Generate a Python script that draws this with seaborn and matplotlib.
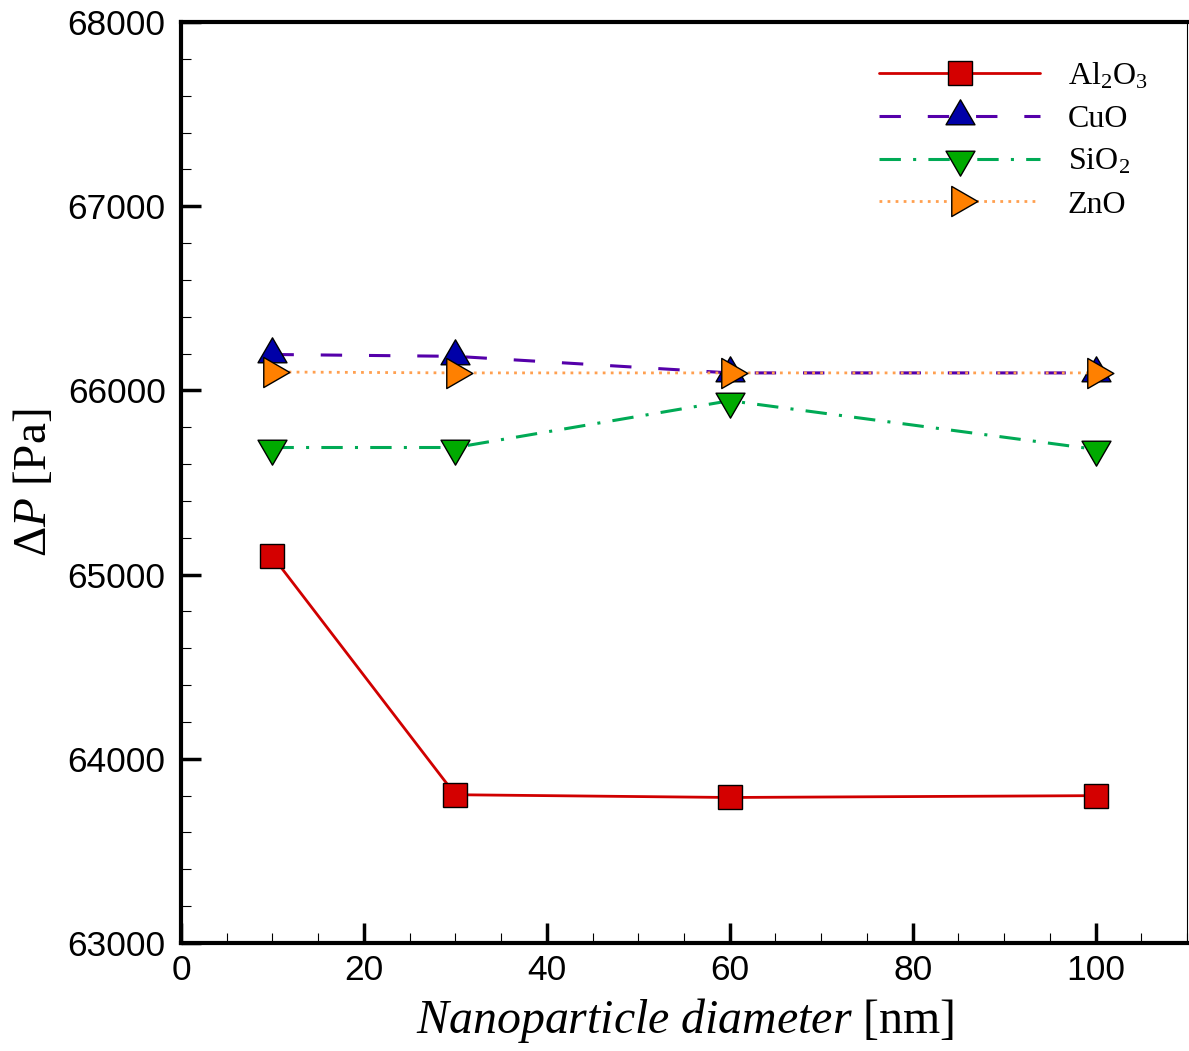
import numpy as np
import pandas as pd
import matplotlib
matplotlib.use("Agg")
import matplotlib.pyplot as plt
from matplotlib.path import Path
from matplotlib.ticker import MultipleLocator
import seaborn as sns

# ---- data ----
diameter = [10, 30, 60, 100]
al2o3 = [65100, 63805, 63790, 63800]
cuo = [66195, 66185, 66095, 66095]
sio2 = [65690, 65690, 65944, 65680]
zno = [66100, 66095, 66095, 66095]
labels = [r"Al$_2$O$_3$", "CuO", r"SiO$_2$", "ZnO"]

sns.set_theme(style="white")
plt.rcParams["font.family"] = ["Liberation Sans", "DejaVu Sans"]
plt.rcParams["mathtext.fontset"] = "custom"
plt.rcParams["mathtext.rm"] = "Liberation Serif"
plt.rcParams["mathtext.it"] = "Liberation Serif:italic"
plt.rcParams["mathtext.bf"] = "Liberation Serif:bold"
plt.rcParams["text.color"] = "black"
plt.rcParams["axes.labelcolor"] = "black"

fig = plt.figure(figsize=(11.89, 10.51), dpi=100)
ax = fig.add_axes([181 / 1189, 108 / 1051, 1006 / 1189, 921 / 1051])

# centroid-centred triangle markers
up_tri = Path([(0, 16.7), (-14.5, -8.3), (14.5, -8.3), (0, 16.7)], closed=True)
down_tri = Path([(0, -16.7), (-14.5, 8.3), (14.5, 8.3), (0, -16.7)], closed=True)
right_tri = Path([(17.3, 0), (-8.7, 15), (-8.7, -15), (17.3, 0)], closed=True)

series = [
    dict(y=al2o3, color="#D00000", mfc="#D40000", marker="s", ms=17.5, lw=2.0, ls="-"),
    dict(y=cuo, color="#5500AA", mfc="#0000A8", marker=up_tri, ms=24, lw=2.2, ls=(0, (7.0, 8.8))),
    dict(y=sio2, color="#00AA55", mfc="#00AA00", marker=down_tri, ms=24, lw=2.2, ls=(0, (7.0, 4.0, 1.0, 4.0))),
    dict(y=zno, color="#FFA050", mfc="#FF8000", marker=right_tri, ms=25, lw=2.0, ls=(0, (1.0, 1.9))),
]

for lab, s in zip(labels, series):
    df = pd.DataFrame({"d": diameter, "p": s["y"]})
    sns.lineplot(data=df, x="d", y="p", ax=ax, color=s["color"], marker=s["marker"],
                 markersize=s["ms"], markerfacecolor=s["mfc"], markeredgecolor="black",
                 markeredgewidth=1.0, linewidth=s["lw"], linestyle=s["ls"], label=lab,
                 zorder=3)

ax.set_xlim(0, 110)
ax.set_ylim(63000, 68000)
ax.xaxis.set_major_locator(MultipleLocator(20))
ax.xaxis.set_minor_locator(MultipleLocator(5))
ax.yaxis.set_major_locator(MultipleLocator(1000))
ax.yaxis.set_minor_locator(MultipleLocator(200))

ax.tick_params(axis="both", which="both", bottom=True, left=True, top=False, right=False)
ax.tick_params(axis="both", which="major", direction="in", length=14.5, width=2.5,
               labelsize=25.5, color="black", labelcolor="black")
ax.tick_params(axis="both", which="minor", direction="in", length=7, width=0.8, color="black")
ax.tick_params(axis="x", which="major", pad=8)
ax.tick_params(axis="y", which="major", pad=11)
for lbl in ax.get_xticklabels() + ax.get_yticklabels():
    lbl.set_fontfamily("Liberation Sans")

for side in ["left", "bottom", "top"]:
    ax.spines[side].set_linewidth(3.0)
    ax.spines[side].set_color("black")
ax.spines["right"].set_linewidth(0.8)
ax.spines["right"].set_color("black")

ax.set_xlabel(r"$Nanoparticle\ diameter$ [nm]", fontsize=34.5, family="Liberation Serif",
              va="top", color="black")
ax.set_ylabel(r"$\Delta P$ [Pa]", fontsize=34, family="Liberation Serif", color="black")
ax.xaxis.set_label_coords(0.501, -0.058)
ax.yaxis.set_label_coords(-0.124, 0.5)

leg = ax.legend(loc="upper left", bbox_to_anchor=(0.694, 0.958), frameon=False,
                prop={"family": "Liberation Serif", "size": 23}, handlelength=5.05,
                handletextpad=0.85, labelspacing=0.42, borderpad=0, borderaxespad=0,
                numpoints=1)
for t in leg.get_texts():
    t.set_color("black")

fig.savefig("out.png", dpi=100, facecolor="white")
